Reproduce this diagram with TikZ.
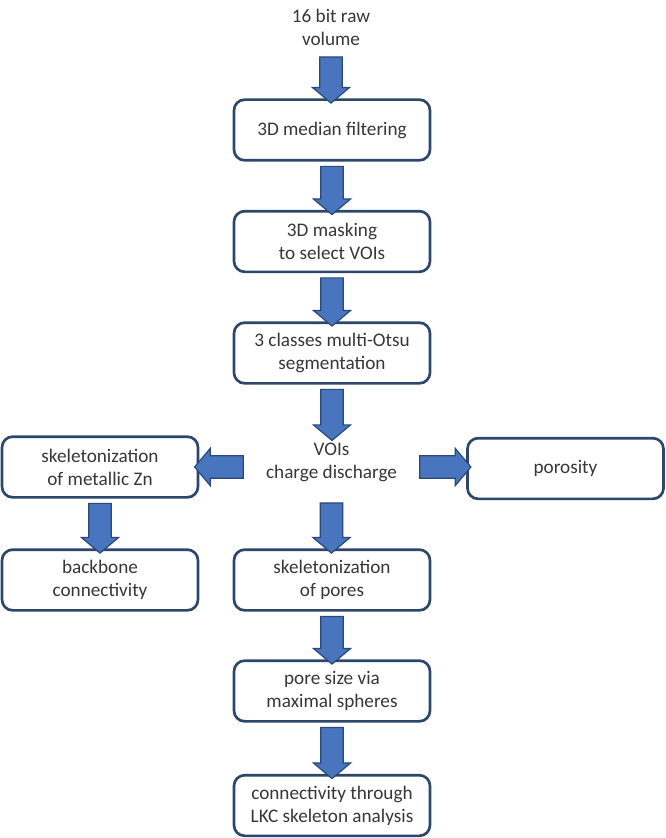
\documentclass[tikz,border=0pt]{standalone}
\usepackage{fontspec}
\setmainfont{Carlito}
\usetikzlibrary{shapes.arrows,calc}
\definecolor{boxline}{RGB}{44,70,108}
\definecolor{arrowfill}{RGB}{72,117,190}
\definecolor{arrowline}{RGB}{42,72,120}
\definecolor{txt}{RGB}{55,55,55}
\begin{document}
\begin{tikzpicture}[x=0.75pt,y=-0.75pt,
  every node/.style={text=txt,font=\fontsize{14.4}{17.3}\selectfont,align=center},
  stepbox/.style={draw=boxline,line width=2pt,rounded corners=8pt,fill=white,
    minimum width=147pt,minimum height=45.5pt,inner sep=0pt},
  plain/.style={inner sep=0pt},
  blockarrow/.style={single arrow,draw=arrowline,fill=arrowfill,line width=0.9pt,
    inner xsep=0pt,inner ysep=8pt,single arrow head extend=5.5pt,
    single arrow tip angle=100,single arrow head indent=0pt,outer sep=0pt}]
\useasboundingbox (0,0) rectangle (666,838);

% text blocks and boxes
\node[plain,minimum height=37.5pt] (raw) at (331,27) {16 bit raw\\volume};
\node[stepbox] (b1) at (332,130) {3D median filtering};
\node[stepbox] (b2) at (332,241.5) {3D masking\\to select VOIs};
\node[stepbox] (b3) at (332,353) {3 classes multi-Otsu\\segmentation};
\node[plain,minimum width=125pt,minimum height=46.5pt] (vois) at (331.5,467) {};
\node at (331.5,462) {VOIs\\charge discharge};
\node[stepbox] (zn) at (100,467) {skeletonization\\of metallic Zn};
\node[stepbox] (por) at (565.5,468.5) {porosity};
\node[stepbox] (bb) at (100,580) {backbone\\connectivity};
\node[stepbox] (pores) at (332,580) {skeletonization\\of pores};
\node[stepbox] (size) at (332,691) {pore size via\\maximal spheres};
\node[stepbox] (lkc) at (332,805.5) {connectivity through\\LKC skeleton analysis};

% block arrows: from an anchor straight to the facing side of the next node
\newcommand{\blockconn}[3]{%
  \path let \p1=(#1), \p2=(#2), \n1={veclen(\x2-\x1,\y2-\y1)},
        \n2={atan2(\y2-\y1,\x2-\x1)} in
    node[blockarrow,minimum height=\n1,rotate=\n2] (#3) at ($(\p1)!0.5!(\p2)$) {};}
\blockconn{raw.south}{raw.south |- b1.north}{a0}
\blockconn{b1.south}{b1.south |- b2.north}{a1}
\blockconn{b2.south}{b2.south |- b3.north}{a2}
\blockconn{b3.south}{b3.south |- vois.north}{a3}
\blockconn{vois.west}{vois.west -| zn.east}{a4}
\blockconn{vois.east}{vois.east -| por.west}{a5}
\blockconn{zn.south}{zn.south |- bb.north}{a6}
\blockconn{vois.south}{vois.south |- pores.north}{a7}
\blockconn{pores.south}{pores.south |- size.north}{a8}
\blockconn{size.south}{size.south |- lkc.north}{a9}
\end{tikzpicture}
\end{document}
